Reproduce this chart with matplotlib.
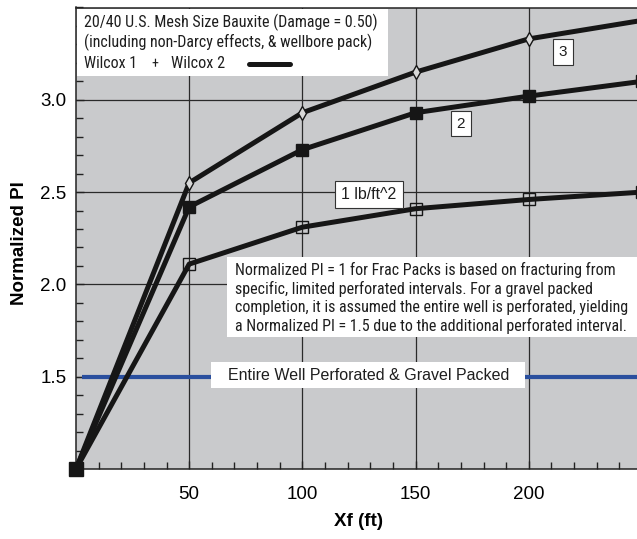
import matplotlib
matplotlib.use("Agg")
import matplotlib.pyplot as plt
from matplotlib import font_manager
from matplotlib.patches import Rectangle
from matplotlib.ticker import MultipleLocator, FixedLocator

# ---- data -------------------------------------------------------------
xf_ft = [0, 50, 100, 150, 200, 250]
pi_1lb = [1.0, 2.11, 2.31, 2.41, 2.46, 2.50]
pi_2lb = [1.0, 2.42, 2.73, 2.93, 3.02, 3.10]
pi_3lb = [1.0, 2.55, 2.93, 3.15, 3.33, 3.43]
gravel_x = [2.5, 250]
gravel_pi = [1.5, 1.5]

x_ticks = [50, 100, 150, 200]
y_ticks = [1.5, 2.0, 2.5, 3.0]

# ---- fonts -------------------------------------------------------------
def pick(names):
    for n in names:
        try:
            font_manager.findfont(font_manager.FontProperties(family=n),
                                  fallback_to_default=False)
            return n
        except Exception:
            pass
    return "DejaVu Sans"

REG = pick(["Liberation Sans", "Arial", "DejaVu Sans"])
NARROW = pick(["Liberation Sans Narrow", "Arial Narrow", "Roboto Condensed",
               "Liberation Sans"])
plt.rcParams["font.family"] = [REG]

W, H = 637, 539
fig = plt.figure(figsize=(W / 100, H / 100), dpi=100)
L, R, T, B = 76, 637, 7.5, 469
ax = fig.add_axes([L / W, 1 - B / H, (R - L) / W, (B - T) / H])

BG = "#c9cacc"
ax.set_facecolor(BG)
ax.set_xlim(0, 247.8)
ax.set_ylim(1.0, 3.5)

ax.xaxis.set_major_locator(FixedLocator(x_ticks))
ax.yaxis.set_major_locator(FixedLocator(y_ticks))
ax.xaxis.set_minor_locator(MultipleLocator(10))
ax.yaxis.set_minor_locator(MultipleLocator(0.1))
ax.tick_params(which="both", direction="in", color="#222222", width=1.0)
ax.tick_params(which="major", length=6, labelsize=13.5)
ax.tick_params(which="minor", length=5)
ax.tick_params(axis="x", which="major", pad=12)
ax.tick_params(axis="y", which="major", pad=7)
ax.grid(True, which="major", color="#2a2a2a", linewidth=0.9)
ax.set_axisbelow(True)
ax.spines["right"].set_visible(False)
for s in ("left", "bottom", "top"):
    ax.spines[s].set_linewidth(1.1)
    ax.spines[s].set_color("#222222")

# ---- series ------------------------------------------------------------
LW = 3.6
LC = "#161616"
ax.plot(gravel_x, gravel_pi, color="#2a4f9e", lw=3.0, solid_capstyle="butt",
        zorder=3)
ax.plot(xf_ft, pi_1lb, color=LC, lw=LW, marker="s", ms=8.5, mfc="none",
        mec=LC, mew=1.0, zorder=4)
ax.plot(xf_ft, pi_3lb, color=LC, lw=LW, marker="d", ms=7, mfc="#d8d8d8",
        mec=LC, mew=1.0, zorder=4)
ax.plot(xf_ft, pi_2lb, color=LC, lw=LW, marker="s", ms=8.5, mfc=LC,
        mec=LC, zorder=5)
ax.plot(xf_ft[:1], pi_2lb[:1], ls="none", marker="s", ms=10.5, color=LC,
        zorder=6, clip_on=False)

# ---- axis labels -------------------------------------------------------
ax.set_xlabel("Xf (ft)", fontsize=13.5, fontweight="bold")
ax.set_ylabel("Normalized PI", fontsize=13.5, fontweight="bold")
ax.xaxis.label.set_va("center")
ax.yaxis.label.set_va("center")
ax.xaxis.set_label_coords((358 - L) / (R - L), (B - 521) / (B - T))
ax.yaxis.set_label_coords((20 - L) / (R - L), (B - 243) / (B - T))

def ax_xy(px, py):
    return (px - L) / (R - L), (B - py) / (B - T)

# ---- legend box --------------------------------------------------------
x0, y0 = ax_xy(77, 76)
x1, y1 = ax_xy(388, 9)
ax.add_patch(Rectangle((x0, y0), x1 - x0, y1 - y0, transform=ax.transAxes,
                       facecolor="white", edgecolor="none", zorder=7))
fit = []
t = ax.text(*ax_xy(84, 22), "20/40 U.S. Mesh Size Bauxite (Damage = 0.50)",
            transform=ax.transAxes, va="center", ha="left", family=NARROW,
            fontsize=11, color="#1e1e1e", zorder=8)
fit.append((t, 294))
t = ax.text(*ax_xy(84, 42.5), "(including non-Darcy effects, & wellbore pack)",
            transform=ax.transAxes, va="center", ha="left", family=NARROW,
            fontsize=11, color="#1e1e1e", zorder=8)
fit.append((t, 290))
t = ax.text(*ax_xy(84, 63), "Wilcox 1", transform=ax.transAxes, va="center",
            ha="left", family=NARROW, fontsize=11, color="#1e1e1e", zorder=8)
fit.append((t, 53))
ax.text(*ax_xy(154.5, 64.5), "+", transform=ax.transAxes, va="center",
        ha="center", family=NARROW, fontsize=10, color="#1e1e1e", zorder=8)
t = ax.text(*ax_xy(171, 63), "Wilcox 2", transform=ax.transAxes, va="center",
            ha="left", family=NARROW, fontsize=11, color="#1e1e1e", zorder=8)
fit.append((t, 54))
lx0, ly = ax_xy(249, 64)
lx1, _ = ax_xy(290, 64)
ax.plot([lx0, lx1], [ly, ly], transform=ax.transAxes, color=LC, lw=LW,
        solid_capstyle="round", zorder=8)

# ---- note box ----------------------------------------------------------
x0, y0 = ax_xy(227, 337)
x1, y1 = ax_xy(640, 257)
ax.add_patch(Rectangle((x0, y0), x1 - x0, y1 - y0, transform=ax.transAxes,
                       facecolor="white", edgecolor="none", zorder=7,
                       clip_on=False))
note = [
    "Normalized PI = 1 for Frac Packs is based on fracturing from",
    "specific, limited perforated intervals. For a gravel packed",
    "completion, it is assumed the entire well is perforated, yielding",
    "a Normalized PI = 1.5 due to the additional perforated interval.",
]
note_y = [270, 288.5, 307, 325.5]
note_t = []
for s, py in zip(note, note_y):
    t = ax.text(*ax_xy(235, py), s, transform=ax.transAxes, va="center",
                ha="left", family=NARROW, fontsize=11, color="#1e1e1e",
                zorder=8)
    note_t.append(t)

# ---- gravel-pack label box ---------------------------------------------
x0, y0 = ax_xy(211, 388)
x1, y1 = ax_xy(525, 362)
ax.add_patch(Rectangle((x0, y0), x1 - x0, y1 - y0, transform=ax.transAxes,
                       facecolor="white", edgecolor="none", zorder=7))
gp = ax.text(*ax_xy(228, 375.5), "Entire Well Perforated & Gravel Packed",
             transform=ax.transAxes, va="center", ha="left", fontsize=11,
             color="#1e1e1e", zorder=8)
fit.append((gp, 280))

# ---- series labels -----------------------------------------------------
box = dict(boxstyle="square,pad=0.38", facecolor="white", edgecolor="#333333",
           linewidth=0.8)
ax.text(215, 3.258, "3", ha="center", va="center", fontsize=11,
        color="#1e1e1e", bbox=box, zorder=8)
ax.text(170, 2.871, "2", ha="center", va="center", fontsize=11,
        color="#1e1e1e", bbox=box, zorder=8)
lb = ax.text(129.4, 2.487, "1 lb/ft^2", ha="center", va="center",
             fontsize=11, color="#1e1e1e",
             bbox=dict(boxstyle="square,pad=0.38", facecolor="white",
                       edgecolor="#333333", linewidth=0.8), zorder=8)
fit.append((lb, 55))

# size the annotation text to its box widths
fig.canvas.draw()
r = fig.canvas.get_renderer()
for t, target in fit:
    w = t.get_window_extent(r).width
    t.set_fontsize(t.get_fontsize() * target / w)
w = note_t[2].get_window_extent(r).width
for t in note_t:
    t.set_fontsize(t.get_fontsize() * 393 / w)

fig.savefig("out.png", dpi=100, facecolor="white")
